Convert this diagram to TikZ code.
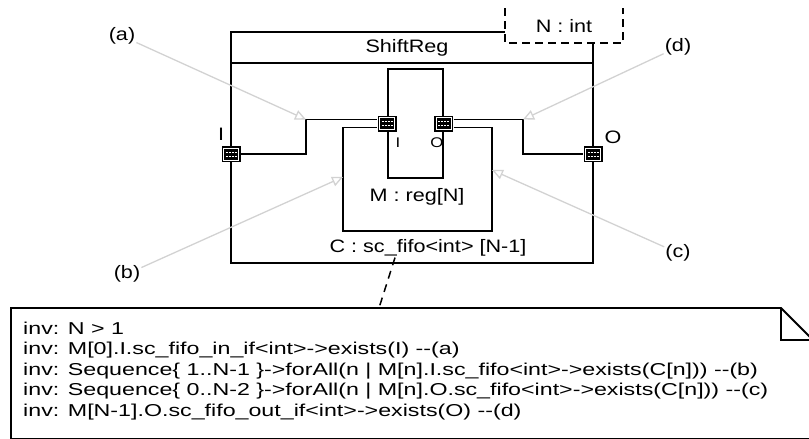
\documentclass[tikz,border=0pt]{standalone}
\usepackage{fontspec}
\setmainfont{Liberation Sans}
\newfontfamily\umlfont[FakeStretch=1.2]{Liberation Sans}
\newfontfamily\notefont[FakeStretch=1.35]{Liberation Sans}
\usetikzlibrary{positioning,arrows.meta,calc}

\begin{document}
\begin{tikzpicture}[
  x=1pt, y=-1pt,
  wire/.style={line width=1.8pt},
  part/.style={draw, line width=1.8pt, inner sep=0pt},
  tmpl/.style={line width=1.5pt, dash pattern=on 8pt off 5pt},
  port/.style={fill=black, minimum width=19pt, minimum height=16pt, inner sep=0pt,
    path picture={
      \draw[white, line width=0.5pt] ([shift={(2pt,2pt)}]path picture bounding box.south west)
        rectangle ([shift={(-2pt,-2pt)}]path picture bounding box.north east);
      \draw[white, line width=1pt, dash pattern=on 2pt off 1pt]
        ([shift={(4pt,2pt)}]path picture bounding box.west) -- ([shift={(-4pt,2pt)}]path picture bounding box.east);
      \draw[white, line width=1pt, dash pattern=on 2pt off 1pt]
        ([shift={(4pt,-2pt)}]path picture bounding box.west) -- ([shift={(-4pt,-2pt)}]path picture bounding box.east);
    }},
  lbl/.style={font=\umlfont\fontsize{18}{20}\selectfont, inner sep=1pt},
  plbl/.style={font=\umlfont\fontsize{14}{16}\selectfont, inner sep=1pt},
  callout/.style={draw=gray!35, line width=1.3pt, -{Triangle[open, length=11pt, width=10pt]}},
  tether/.style={line width=1.5pt, dash pattern=on 8pt off 6pt},
  notebox/.style={line width=1.8pt},
  notetext/.style={font=\notefont\fontsize{17.2}{20.5}\selectfont, align=left, inner sep=0pt},
]
\useasboundingbox (0,0) rectangle (809,439);
\clip (0,0) rectangle (809,439);

% === ShiftReg class ===
\draw[wire] (505,32) -- (231,32) -- (231,263) -- (593,263) -- (593,43);
\draw[wire] (231,63) -- (593,63);
\node[lbl] (title) at (407,48) {ShiftReg};
\draw[tmpl] (505,8) -- (505,43) -- (623,43) -- (623,8);
\node[lbl] (param) at (564,26) {N : int};

% === part M and its ports ===
\node[part, minimum width=55pt, minimum height=109pt] (M) at (415.5,123.5) {};
\node[port] (mI) at (M.west) {};
\node[port] (mO) at (M.east) {};
\node[plbl] (mIl) at (398,143) {I};
\node[plbl] (mOl) at (437,143) {O};
\node[lbl] (Mlbl) at (417,197) {M : reg[N]};

% === boundary ports ===
\node[port] (pI) at (231,154) {};
\node[port] (pO) at (593,154) {};
\node[lbl] (pIl) at (221,134) {I};
\node[lbl] (pOl) at (613,137) {O};

% === connectors ===
\coordinate (kA) at (306,119.5);
\coordinate (kD) at (523,119.5);
\coordinate (cBL) at (343,231);
\coordinate (cBR) at (492,231);
\draw[wire] (pI.east) -| (kA) -- ([yshift=4pt]mI.west);
\draw[wire] ([yshift=4pt]mO.east) -- (kD) |- (pO.west);
\draw[wire] ([yshift=-4pt]mO.east) -| (cBR) -- (cBL) |- ([yshift=-4pt]mI.west);
\node[lbl] (Clbl) at (428,248) {C : sc\_fifo<int> [N-1]};

% === callouts ===
\node[lbl] (la) at (122,36) {(a)};
\node[lbl] (lb) at (127,274) {(b)};
\node[lbl] (lc) at (678,253) {(c)};
\node[lbl] (ld) at (678,47) {(d)};
\coordinate (tb) at (343,177);
\coordinate (tc) at (492,170);
\draw[callout] (la) -- (kA);
\draw[callout] (lb) -- (tb);
\draw[callout] (lc) -- (tc);
\draw[callout] (ld) -- (kD);

% === OCL note ===
\coordinate (noteNW) at (11,308);
\draw[notebox] (noteNW) -- (781,308) -- (813,340) -- (813,439) -- (11,439) -- cycle;
\draw[notebox] (781,308) |- (813,340);
\draw[tether] ([xshift=-33pt]Clbl.south) -- ([xshift=368pt]noteNW);
\node[notetext, anchor=north west] (inv) at (23,321.5) {%
  inv: N > 1\\
  inv: M[0].I.sc\_fifo\_in\_if<int>->exists(I) -{}-(a)\\
  inv: Sequence\{ 1..N-1 \}->forAll(n | M[n].I.sc\_fifo<int>->exists(C[n])) -{}-(b)\\
  inv: Sequence\{ 0..N-2 \}->forAll(n | M[n].O.sc\_fifo<int>->exists(C[n])) -{}-(c)\\
  inv: M[N-1].O.sc\_fifo\_out\_if<int>->exists(O) -{}-(d)};

\end{tikzpicture}
\end{document}
